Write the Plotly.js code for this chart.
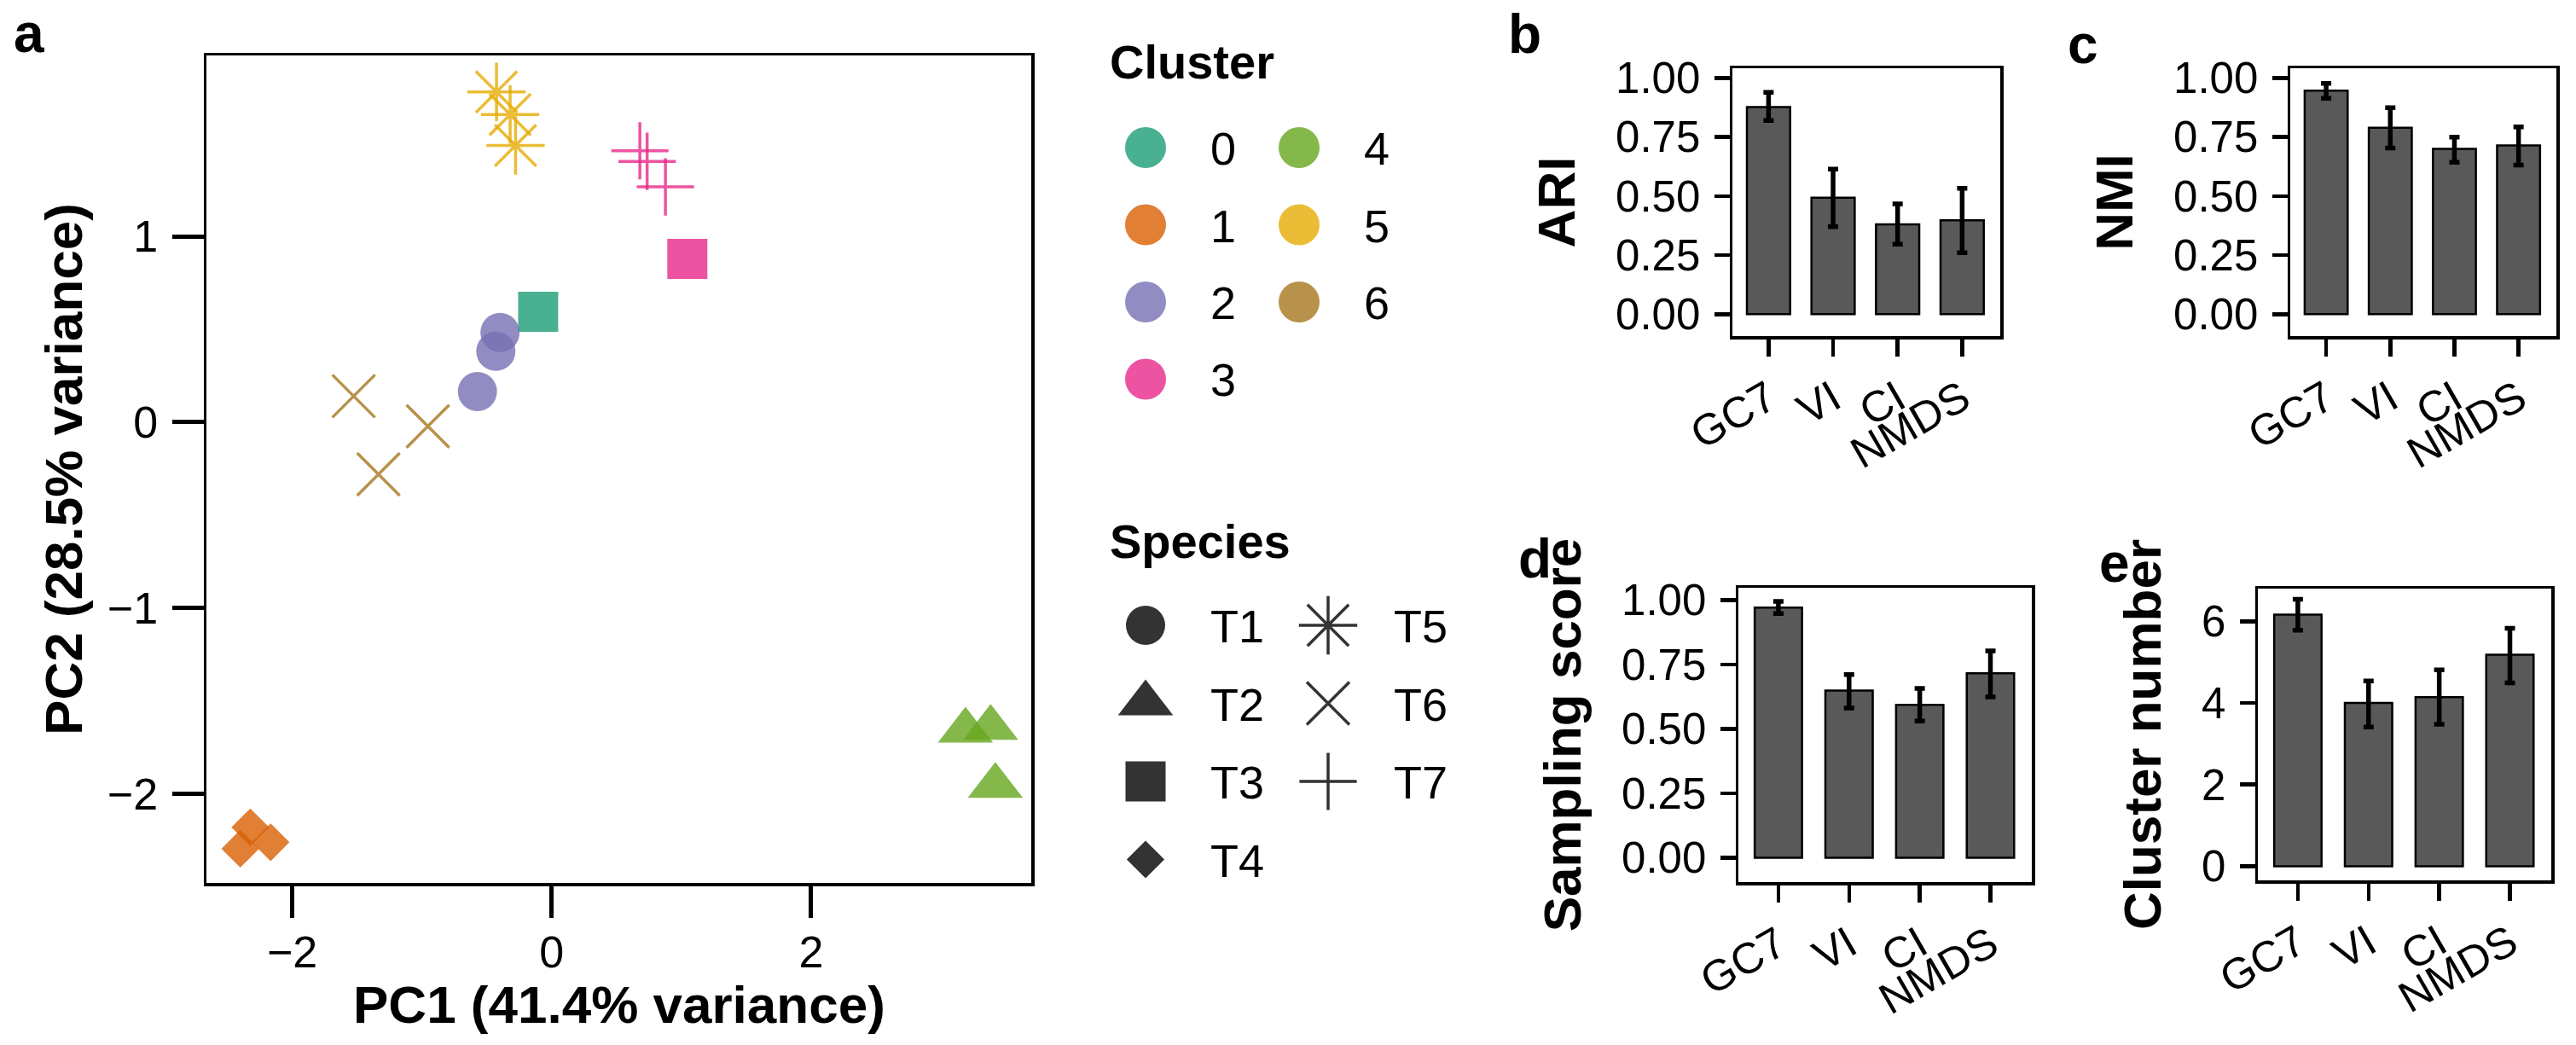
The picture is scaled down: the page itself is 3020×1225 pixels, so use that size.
<!DOCTYPE html>
<html>
<head>
<meta charset="utf-8">
<script src="https://cdn.plot.ly/plotly-3.0.1.min.js"></script>
<style>
html,body{margin:0;padding:0;background:#ffffff;}
#chart{width:3020px;height:1225px;}
</style>
</head>
<body>
<div id="chart"></div>
<script>
// ---------------- DATA ----------------
// PCA scores (panel a)
const pc1     = [-0.425, -0.320, -0.278,  0.680,  0.736,  0.877,  1.046, -0.104, -0.398, -0.430, -0.572, -1.526, -0.954, -1.335,  3.190,  3.384,  3.420, -2.323, -2.400, -2.166];
const pc2     = [ 1.777,  1.655,  1.489,  1.460,  1.403,  1.266,  0.878,  0.594,  0.482,  0.381,  0.165,  0.140, -0.022, -0.281, -1.660, -1.645, -1.957, -2.180, -2.295, -2.260];
const cluster = ['5','5','5','3','3','3','3','0','2','2','2','6','6','6','4','4','4','1','1','1'];
const species = ['T5','T5','T5','T7','T7','T7','T3','T3','T1','T1','T1','T6','T6','T6','T2','T2','T2','T4','T4','T4'];

const clusterLevels = ['0','1','2','3','4','5','6'];
const speciesLevels = ['T1','T2','T3','T4','T5','T6','T7'];

// Benchmark panels (b-e)
const methods = ['GC7','VI','CI','NMDS'];
const ari        = [0.877, 0.493, 0.380, 0.397];
const ariLow     = [0.820, 0.370, 0.296, 0.260];
const ariHigh    = [0.939, 0.614, 0.467, 0.533];
const nmi        = [0.946, 0.789, 0.700, 0.714];
const nmiLow     = [0.914, 0.703, 0.643, 0.631];
const nmiHigh    = [0.977, 0.874, 0.749, 0.793];
const sampling     = [0.971, 0.649, 0.594, 0.716];
const samplingLow  = [0.948, 0.581, 0.531, 0.624];
const samplingHigh = [0.995, 0.711, 0.657, 0.803];
const clusterNum     = [6.165, 4.000, 4.140, 5.180];
const clusterNumLow  = [5.780, 3.410, 3.480, 4.490];
const clusterNumHigh = [6.540, 4.540, 4.810, 5.830];

// ---------------- STYLE ----------------
const W = 3020, H = 1225;
const FONT = 'Liberation Sans, Arial, Helvetica, sans-serif';
const dark2 = {'0':'#1B9E77','1':'#D95F02','2':'#7570B3','3':'#E7298A','4':'#66A61E','5':'#E6AB02','6':'#A6761D'};
const symbolOf = {T1:'circle',T2:'triangle-up',T3:'square',T4:'diamond',T5:'asterisk-open',T6:'x-thin-open',T7:'cross-thin-open'};
const sizeOf   = {T1:46,T2:56,T3:47,T4:34,T5:57,T6:50,T7:48};
const lineOf   = {T1:0,T2:0,T3:0,T4:0,T5:3.5,T6:3.5,T7:3.5};
const px = x => x / W;
const py = y => 1 - y / H;

const traces = [];

// panel a scatter
traces.push({
  type:'scatter', mode:'markers', xaxis:'x', yaxis:'y',
  x: pc1, y: pc2, cliponaxis:false, hoverinfo:'skip', showlegend:false,
  marker:{
    symbol: species.map(s => symbolOf[s]),
    size: species.map(s => sizeOf[s]),
    color: cluster.map(c => dark2[c]),
    opacity: 0.8,
    line:{width: species.map(s => lineOf[s]), color: cluster.map(c => dark2[c])}
  }
});

// bar panels
const panels = [
  {ax:'2', v:ari, lo:ariLow, hi:ariHigh},
  {ax:'3', v:nmi, lo:nmiLow, hi:nmiHigh},
  {ax:'4', v:sampling, lo:samplingLow, hi:samplingHigh},
  {ax:'5', v:clusterNum, lo:clusterNumLow, hi:clusterNumHigh}
];
panels.forEach(p => {
  traces.push({
    type:'bar', xaxis:'x'+p.ax, yaxis:'y'+p.ax, x: methods, y: p.v, width:0.67,
    marker:{color:'#595959', line:{color:'#000000', width:2.5}},
    error_y:{type:'data', symmetric:false,
      array: p.v.map((v,i) => p.hi[i]-v), arrayminus: p.v.map((v,i) => v-p.lo[i]),
      color:'#000000', thickness:5.5, width:6},
    hoverinfo:'skip', showlegend:false
  });
});

// legend (drawn on a hidden pixel-space overlay axis)
const legX0 = 1343, labX0 = 1418;
traces.push({
  type:'scatter', mode:'markers', xaxis:'x6', yaxis:'y6', hoverinfo:'skip', showlegend:false, cliponaxis:false,
  x: clusterLevels.map((c,i) => legX0 + Math.floor(i/4)*180),
  y: clusterLevels.map((c,i) => 173 + (i%4)*90.5),
  marker:{symbol:'circle', size:48, color: clusterLevels.map(c => dark2[c]), opacity:0.8, line:{width:0}}
});
traces.push({
  type:'scatter', mode:'markers', xaxis:'x6', yaxis:'y6', hoverinfo:'skip', showlegend:false, cliponaxis:false,
  x: speciesLevels.map((s,i) => legX0 + Math.floor(i/4)*214),
  y: speciesLevels.map((s,i) => 733 + (i%4)*91.5),
  marker:{symbol: speciesLevels.map(s => symbolOf[s]), size: speciesLevels.map(s => sizeOf[s]),
    color:'#333333', opacity:1, line:{width: speciesLevels.map(s => lineOf[s]), color:'#333333'}}
});

const annotations = [];
function ann(text, x, y, size, bold, xanchor, yanchor){
  annotations.push({text:text, xref:'paper', yref:'paper', x:px(x), y:py(y), showarrow:false,
    xanchor:xanchor||'center', yanchor:yanchor||'middle', borderpad:0,
    font:{family:FONT, size:size, color:'#000000', weight: bold ? 'bold' : 'normal'}});
}
// panel letters
ann('a', 34, 2, 64, true, 'center', 'top');
ann('b', 1787, 40, 64, true);
ann('c', 2442, 52, 64, true);
ann('d', 1799, 655, 64, true);
ann('e', 2479, 660, 64, true);
// x-axis title of panel a
ann('PC1 (41.4% variance)', 725.5, 1177, 62, true);
// legend titles and labels
ann('Cluster', 1300, 72, 56, true, 'left');
ann('Species', 1300, 634, 56, true, 'left');
clusterLevels.forEach((c,i) => ann(c, labX0 + Math.floor(i/4)*180, 174 + (i%4)*90.5, 54, false, 'left'));
speciesLevels.forEach((s,i) => ann(s, labX0 + Math.floor(i/4)*215, 734 + (i%4)*91.5, 54, false, 'left'));

// ---------------- AXES ----------------
function baseAxis(extra){
  return Object.assign({
    showline:true, mirror:true, linecolor:'#000000', linewidth:3.5,
    showgrid:false, zeroline:false, ticks:'outside', tickcolor:'#000000',
    tickfont:{family:FONT, size:51, color:'#000000'}, automargin:false, fixedrange:true
  }, extra);
}
const titleFont = {family:FONT, size:62, color:'#000000', weight:'bold'};

const layout = {
  width:W, height:H, margin:{l:0,r:0,t:0,b:0}, paper_bgcolor:'#ffffff', plot_bgcolor:'rgba(0,0,0,0)',
  showlegend:false, font:{family:FONT, color:'#000000'},
  xaxis: baseAxis({domain:[px(242), px(1209)], range:[-2.661, 3.697], tickvals:[-2,0,2], ticklen:37, tickwidth:5,
    tickfont:{family:FONT, size:52, color:'#000000'}, anchor:'y', ticklabelstandoff:-4}),
  yaxis: baseAxis({domain:[py(1035), py(65)], range:[-2.479, 1.973], tickvals:[-2,-1,0,1], ticklen:37, tickwidth:5,
    tickfont:{family:FONT, size:52, color:'#000000'}, anchor:'x', ticklabelstandoff:6,
    title:{text:'PC2 (28.5% variance)', font:titleFont, standoff:10}}),

  xaxis2: baseAxis({domain:[px(2031), px(2345)], range:[-0.56, 3.59], type:'category', ticklen:20, tickwidth:4.5, tickangle:-30, anchor:'y2'}),
  yaxis2: baseAxis({domain:[py(394), py(80)], range:[-0.093, 1.041], tickvals:[0,0.25,0.5,0.75,1], tickformat:'.2f', ticklen:18, tickwidth:4.5, anchor:'x2',
    ticklabelstandoff:6, title:{text:'ARI', font:titleFont, standoff:28}}),

  xaxis3: baseAxis({domain:[px(2685), px(2997)], range:[-0.56, 3.59], type:'category', ticklen:20, tickwidth:4.5, tickangle:-30, anchor:'y3'}),
  yaxis3: baseAxis({domain:[py(394), py(80)], range:[-0.093, 1.041], tickvals:[0,0.25,0.5,0.75,1], tickformat:'.2f', ticklen:18, tickwidth:4.5, anchor:'x3',
    ticklabelstandoff:6, title:{text:'NMI', font:titleFont, standoff:28}}),

  xaxis4: baseAxis({domain:[px(2038), px(2382)], range:[-0.566, 3.585], type:'category', ticklen:20, tickwidth:4.5, tickangle:-30, anchor:'y4'}),
  yaxis4: baseAxis({domain:[py(1034), py(689)], range:[-0.094, 1.048], tickvals:[0,0.25,0.5,0.75,1], tickformat:'.2f', ticklen:18, tickwidth:4.5, anchor:'x4',
    ticklabelstandoff:6, title:{text:'Sampling score', font:titleFont, standoff:28}}),

  xaxis5: baseAxis({domain:[px(2647), px(2991)], range:[-0.566, 3.585], type:'category', ticklen:20, tickwidth:4.5, tickangle:-30, anchor:'y5'}),
  yaxis5: baseAxis({domain:[py(1032), py(690)], range:[-0.346, 6.80], tickvals:[0,2,4,6], ticklen:18, tickwidth:4.5, anchor:'x5',
    ticklabelstandoff:6, title:{text:'Cluster number', font:titleFont, standoff:28}}),

  xaxis6: {domain:[0,1], range:[0,W], visible:false, fixedrange:true, anchor:'y6'},
  yaxis6: {domain:[0,1], range:[H,0], visible:false, fixedrange:true, anchor:'x6'},
  annotations: annotations
};

Plotly.newPlot('chart', traces, layout, {staticPlot:true, displayModeBar:false});
</script>
</body>
</html>
